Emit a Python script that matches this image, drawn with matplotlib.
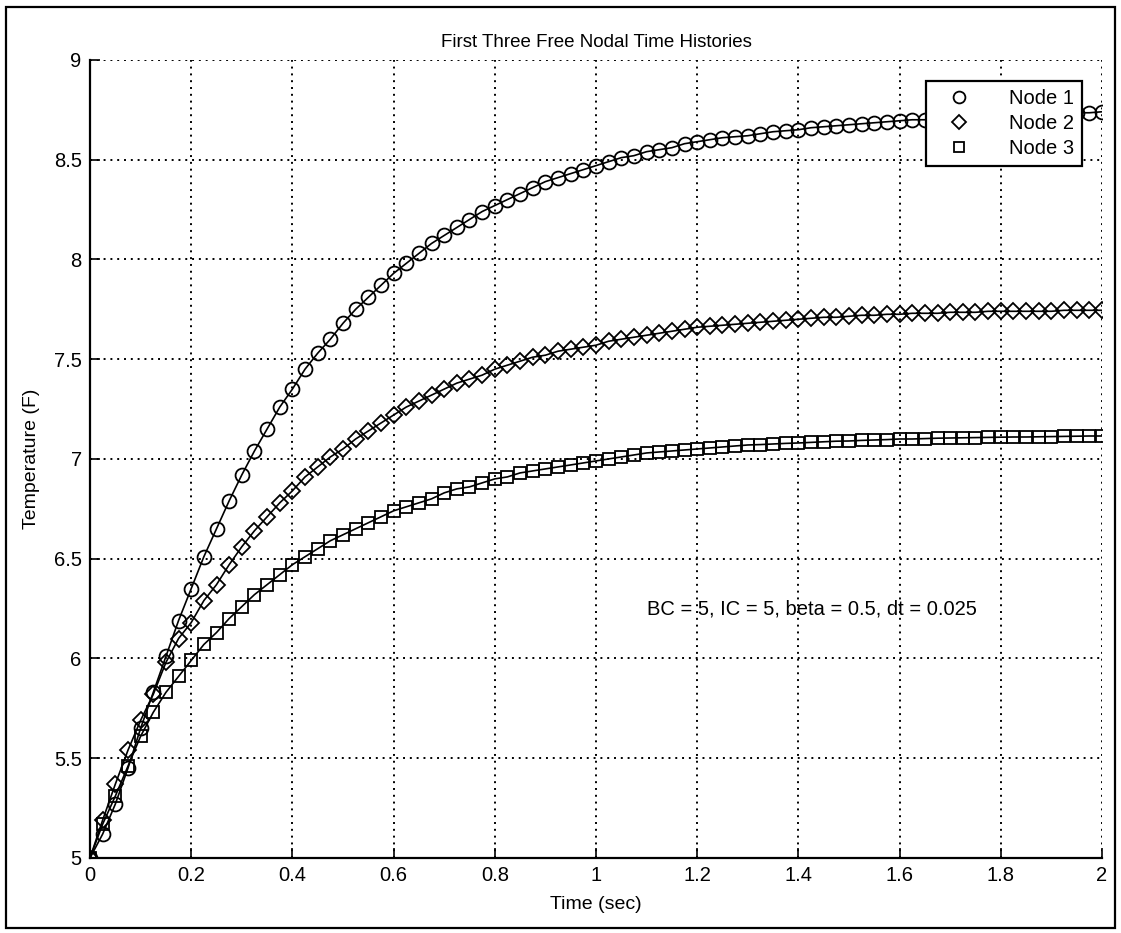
import matplotlib
matplotlib.use('Agg')
import matplotlib.pyplot as plt
from matplotlib.patches import Rectangle

plt.rcParams['font.family'] = ['Liberation Sans', 'DejaVu Sans']

# time steps, dt = 0.025
time = [i * 0.025 for i in range(81)]

node1 = [5.00, 5.12, 5.27, 5.45, 5.65, 5.83, 6.01, 6.19, 6.35, 6.51,
         6.65, 6.79, 6.92, 7.04, 7.15, 7.26, 7.35, 7.45, 7.53, 7.60,
         7.68, 7.75, 7.81, 7.87, 7.93, 7.98, 8.03, 8.08, 8.12, 8.16,
         8.20, 8.24, 8.27, 8.30, 8.33, 8.36, 8.39, 8.41, 8.43, 8.45,
         8.47, 8.49, 8.51, 8.52, 8.54, 8.55, 8.56, 8.58, 8.59, 8.60,
         8.61, 8.615, 8.62, 8.63, 8.64, 8.645, 8.65, 8.66, 8.665, 8.67,
         8.675, 8.68, 8.685, 8.69, 8.695, 8.70, 8.70, 8.705, 8.71, 8.71,
         8.715, 8.72, 8.72, 8.725, 8.725, 8.73, 8.73, 8.73, 8.735, 8.735,
         8.74]

node2 = [5.00, 5.19, 5.37, 5.54, 5.69, 5.82, 5.98, 6.10, 6.18, 6.29,
         6.37, 6.47, 6.56, 6.64, 6.71, 6.78, 6.84, 6.91, 6.96, 7.01,
         7.05, 7.10, 7.14, 7.18, 7.22, 7.26, 7.29, 7.32, 7.35, 7.38,
         7.40, 7.42, 7.45, 7.47, 7.49, 7.51, 7.52, 7.54, 7.55, 7.56,
         7.57, 7.59, 7.60, 7.61, 7.62, 7.63, 7.64, 7.65, 7.66, 7.665,
         7.67, 7.675, 7.68, 7.685, 7.69, 7.695, 7.70, 7.705, 7.71, 7.71,
         7.715, 7.72, 7.72, 7.725, 7.725, 7.73, 7.73, 7.73, 7.735, 7.735,
         7.735, 7.74, 7.74, 7.74, 7.74, 7.74, 7.74, 7.745, 7.745, 7.745,
         7.745]

node3 = [5.00, 5.17, 5.31, 5.46, 5.61, 5.73, 5.83, 5.91, 5.99, 6.07,
         6.13, 6.20, 6.26, 6.32, 6.37, 6.42, 6.47, 6.51, 6.55, 6.59,
         6.62, 6.65, 6.68, 6.71, 6.74, 6.76, 6.78, 6.80, 6.83, 6.85,
         6.86, 6.88, 6.90, 6.91, 6.93, 6.94, 6.95, 6.96, 6.97, 6.98,
         6.99, 7.00, 7.01, 7.02, 7.03, 7.035, 7.04, 7.045, 7.05, 7.055,
         7.06, 7.065, 7.07, 7.072, 7.075, 7.078, 7.08, 7.083, 7.086, 7.089,
         7.09, 7.093, 7.095, 7.097, 7.10, 7.10, 7.102, 7.104, 7.105, 7.106,
         7.107, 7.108, 7.109, 7.11, 7.11, 7.111, 7.112, 7.113, 7.114, 7.115,
         7.115]

xticks = [0, 0.2, 0.4, 0.6, 0.8, 1, 1.2, 1.4, 1.6, 1.8, 2]
xticklabels = ['0', '0.2', '0.4', '0.6', '0.8', '1', '1.2', '1.4', '1.6', '1.8', '2']
yticks = [5, 5.5, 6, 6.5, 7, 7.5, 8, 8.5, 9]
yticklabels = ['5', '5.5', '6', '6.5', '7', '7.5', '8', '8.5', '9']

fig = plt.figure(figsize=(11.21, 9.33), dpi=100)
ax = fig.add_axes([0.0803, 0.0804, 0.9027, 0.8554])

mk = dict(linestyle='none', markerfacecolor='none', markeredgecolor='k',
          markeredgewidth=1.3)
for y in (node1, node2, node3):
    ax.plot(time, y, '-', color='k', linewidth=1.2)
ax.plot(time, node1, marker='o', markersize=10, label='Node 1', **mk)
ax.plot(time, node2, marker='D', markersize=8.5, label='Node 2', **mk)
ax.plot(time, node3, marker='s', markersize=8.5, label='Node 3', **mk)

ax.set_xlim(0, 2)
ax.set_ylim(5, 9)
ax.set_xticks(xticks)
ax.set_xticklabels(xticklabels)
ax.set_yticks(yticks)
ax.set_yticklabels(yticklabels)
ax.tick_params(direction='in', length=7, width=1.2, labelsize=14.5, colors='k', pad=6)
ax.grid(True, color='k', linestyle=(0, (1, 2.5)), linewidth=1.4)
for s in ('top', 'right'):
    ax.spines[s].set_visible(False)
for s in ('left', 'bottom'):
    ax.spines[s].set_linewidth(1.6)

ax.set_title('First Three Free Nodal Time Histories', fontsize=13.5, pad=9)
ax.set_xlabel('Time (sec)', fontsize=14, labelpad=8)
ax.set_ylabel('Temperature (F)', fontsize=14, labelpad=10)

ax.text(1.1, 6.25, 'BC = 5, IC = 5, beta = 0.5, dt = 0.025', fontsize=14.5,
        ha='left', va='center')

leg = ax.legend(loc='upper right', bbox_to_anchor=(0.99, 0.986), fontsize=14.5,
                fancybox=False, framealpha=1, edgecolor='k', borderpad=0.4,
                handlelength=2.5, handletextpad=1.2, labelspacing=0.3,
                markerscale=0.85)
leg.get_frame().set_linewidth(1.6)

fig.patches.append(Rectangle((0.005, 0.005), 0.99, 0.987, transform=fig.transFigure,
                             fill=False, edgecolor='k', linewidth=1.6))

fig.savefig('out.png', dpi=100)
